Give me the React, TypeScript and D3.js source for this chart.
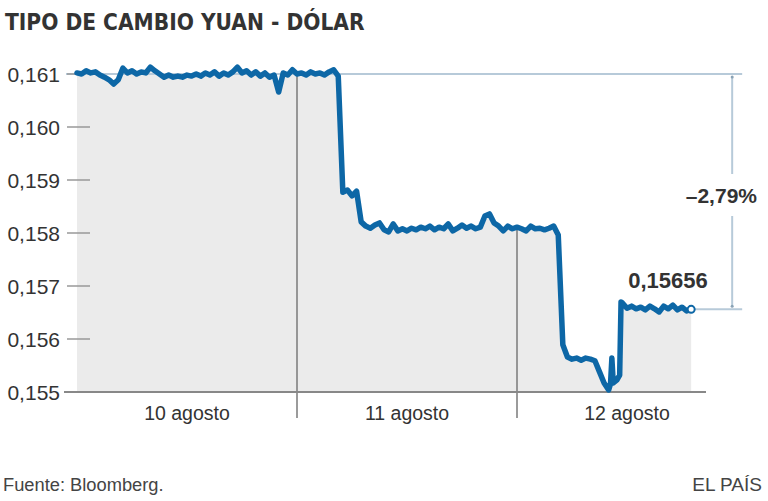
import React from "react";
import * as d3 from "d3";

// Hours elapsed since the start of 10 August
const hours = [
  0, 0.5, 1, 1.5, 2, 2.5, 3, 3.5, 4, 4.5, 5, 5.5, 6, 6.5, 7, 7.5, 8, 8.5, 9, 9.5,
  10, 10.5, 11, 11.5, 12, 12.5, 13, 13.5, 14, 14.5, 15, 15.5, 16, 16.5, 17, 17.5, 18, 18.5, 19, 19.5,
  20, 20.5, 21, 21.5, 22, 22.5, 23, 23.5, 24, 24.5, 25, 25.5, 26, 26.5, 27, 27.5, 28, 28.5, 29, 29.5,
  30, 30.5, 31, 31.5, 32, 32.5, 33, 33.5, 34, 34.5, 35, 35.5, 36, 36.5, 37, 37.5, 38, 38.5, 39, 39.5,
  40, 40.5, 41, 41.5, 42, 42.5, 43, 43.5, 44, 44.5, 45, 45.5, 46, 46.5, 47, 47.5, 48, 48.5, 49, 49.5,
  50, 50.5, 51, 51.5, 52, 52.5, 53, 53.5, 54, 54.5, 55, 55.5, 56, 56.5, 57, 57.5,
  58, 58.2, 58.35, 58.5, 58.9, 59.2, 59.35, 59.5,
  60, 60.5, 61, 61.5, 62, 62.5, 63, 63.5, 64, 64.5, 65, 65.5, 66, 66.5, 67,
];

// Yuan-dollar exchange rate
const rates = [
  0.16102, 0.161, 0.16106, 0.16102, 0.16104, 0.16098, 0.16094, 0.16089, 0.16081, 0.16089,
  0.16111, 0.16102, 0.16106, 0.161, 0.16104, 0.16102, 0.16113, 0.16106, 0.161, 0.16094,
  0.16098, 0.16094, 0.16096, 0.16094, 0.16098, 0.16096, 0.161, 0.16096, 0.16102, 0.16098,
  0.16104, 0.16096, 0.16102, 0.16098, 0.16104, 0.16113, 0.16102, 0.16106, 0.16098, 0.16104,
  0.16096, 0.16102, 0.16094, 0.16098, 0.16066, 0.16102, 0.16098, 0.16108, 0.161, 0.16102,
  0.16098, 0.16104, 0.161, 0.16102, 0.16098, 0.16104, 0.16108, 0.16096, 0.15877, 0.15881,
  0.1587, 0.15879, 0.15821, 0.15813, 0.15809, 0.15815, 0.15819, 0.15806, 0.15802, 0.15817,
  0.15804, 0.15808, 0.15804, 0.15809, 0.15806, 0.15811, 0.15808, 0.15813, 0.15806, 0.15811,
  0.15808, 0.15817, 0.15804, 0.15809, 0.15815, 0.15809, 0.15813, 0.15808, 0.15811, 0.15832,
  0.15836, 0.15819, 0.15813, 0.15804, 0.15813, 0.15808, 0.15811, 0.15808, 0.15804, 0.15813,
  0.15808, 0.15809, 0.15806, 0.15809, 0.15813, 0.15796, 0.15589, 0.15566, 0.15562, 0.15564,
  0.1556, 0.15564, 0.15562, 0.15559, 0.15538, 0.15517,
  0.15504, 0.15515, 0.15564, 0.15517, 0.15523, 0.15532, 0.1567, 0.15668,
  0.15658, 0.15662, 0.15657, 0.1566, 0.15655, 0.15662, 0.15657, 0.15651, 0.15662, 0.15657,
  0.15664, 0.15655, 0.1566, 0.15653, 0.15656,
];

const yTicks = [0.155, 0.156, 0.157, 0.158, 0.159, 0.16, 0.161];
const dayLabels = ["10 agosto", "11 agosto", "12 agosto"];
const dayCenters = [12, 36, 60];
const dayBreaks = [24, 48];
const startRate = 0.161;
const lastRate = 0.15656;
const changeLabel = "–2,79%";
const lastLabel = "0,15656";
const title = "TIPO DE CAMBIO YUAN - DÓLAR";
const source = "Fuente: Bloomberg.";
const brand = "EL PAÍS";

const W = 768;
const H = 501;
const BLUE = "#0d67a6";
const REF = "#b7cad9";
const SANS = "'Liberation Sans', Arial, Helvetica, sans-serif";

const esLocale = d3.formatLocale({
  decimal: ",",
  thousands: ".",
  grouping: [3],
  currency: ["", " €"],
});
const fmt = esLocale.format(".3f");

export default function App() {
  const data = hours.map((h, i) => ({ h, v: rates[i] }));
  const x = d3.scaleLinear().domain([0, 72]).range([77, 737]);
  const y = d3.scaleLinear().domain([0.155, 0.161]).range([392, 74]);

  const line = d3
    .line<{ h: number; v: number }>()
    .x((d) => x(d.h))
    .y((d) => y(d.v));
  const area = d3
    .area<{ h: number; v: number }>()
    .x((d) => x(d.h))
    .y0(y(0.155))
    .y1((d) => y(d.v));

  const valueAt = (h: number) => rates[hours.indexOf(h)];

  const xEnd = x(hours[hours.length - 1]);
  const bracketX = xEnd + 41;
  const refEnd = xEnd + 51;

  return (
    <svg
      width={W}
      height={H}
      style={{ position: "absolute", left: 0, top: 0, background: "#fff" }}
    >
      <rect width={W} height={H} fill="#fff" />
      <text
        x={5}
        y={30}
        fontFamily="'DejaVu Sans Condensed', 'DejaVu Sans', sans-serif"
        fontWeight="bold"
        fontSize={22.5}
        fill="#333"
      >
        {title}
      </text>

      <path d={area(data) || ""} fill="#ebebeb" />

      <line x1={66} x2={refEnd} y1={y(startRate)} y2={y(startRate)} stroke={REF} strokeWidth={2} />
      <line x1={xEnd} x2={refEnd} y1={y(lastRate)} y2={y(lastRate)} stroke={REF} strokeWidth={2} />

      {yTicks.map((t) => (
        <g key={t}>
          {t !== 0.155 && t !== 0.161 && (
            <line x1={67} x2={90} y1={y(t)} y2={y(t)} stroke="#999" strokeWidth={1.5} />
          )}
          {t === 0.161 && (
            <line x1={67} x2={77} y1={y(t)} y2={y(t)} stroke="#999" strokeWidth={1.5} />
          )}
          <text
            x={60}
            y={y(t)}
            dy="0.36em"
            textAnchor="end"
            fontFamily={SANS}
            fontSize={21}
            fill="#333"
          >
            {fmt(t)}
          </text>
        </g>
      ))}

      {dayBreaks.map((b) => (
        <line
          key={b}
          x1={x(b)}
          x2={x(b)}
          y1={y(valueAt(b))}
          y2={418}
          stroke="#7a7a7a"
          strokeWidth={1.5}
        />
      ))}

      <line x1={64} x2={706} y1={y(0.155)} y2={y(0.155)} stroke="#888" strokeWidth={2} />

      {dayLabels.map((l, i) => (
        <text
          key={l}
          x={x(dayCenters[i])}
          y={420}
          textAnchor="middle"
          fontFamily={SANS}
          fontSize={19.5}
          fill="#333"
        >
          {l}
        </text>
      ))}

      <path
        d={line(data) || ""}
        fill="none"
        stroke={BLUE}
        strokeWidth={5.5}
        strokeLinejoin="round"
        strokeLinecap="round"
      />
      <circle cx={xEnd} cy={y(lastRate)} r={3.5} fill="#fff" stroke={BLUE} strokeWidth={2} />

      <line x1={bracketX} x2={bracketX} y1={y(startRate) + 3} y2={174} stroke={REF} strokeWidth={2} />
      <line x1={bracketX} x2={bracketX} y1={216} y2={y(lastRate) - 3} stroke={REF} strokeWidth={2} />
      <circle cx={bracketX} cy={y(startRate) + 3} r={1.5} fill="#8aa3b6" />
      <circle cx={bracketX} cy={y(lastRate) - 3} r={1.5} fill="#8aa3b6" />
      <text
        x={757}
        y={203}
        textAnchor="end"
        fontFamily={SANS}
        fontWeight="bold"
        fontSize={21}
        fill="#333"
      >
        {changeLabel}
      </text>
      <text
        x={668}
        y={288}
        textAnchor="middle"
        fontFamily={SANS}
        fontWeight="bold"
        fontSize={22}
        fill="#333"
      >
        {lastLabel}
      </text>

      <text x={3} y={491} fontFamily={SANS} fontSize={18.3} fill="#444">
        {source}
      </text>
      <text x={762} y={491} textAnchor="end" fontFamily={SANS} fontSize={19} fill="#444">
        {brand}
      </text>
    </svg>
  );
}
